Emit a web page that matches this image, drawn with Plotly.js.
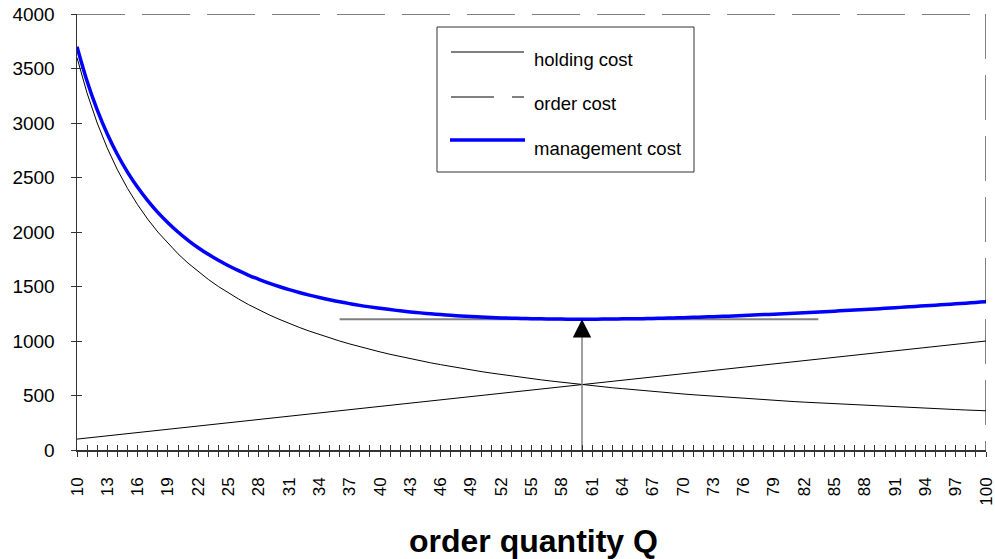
<!DOCTYPE html>
<html>
<head>
<meta charset="utf-8">
<script src="https://cdn.plot.ly/plotly-3.0.1.min.js"></script>
<style>html,body{margin:0;padding:0;background:#fff;}#chart{width:995px;height:559px;}</style>
</head>
<body>
<div id="chart"></div>
<script>
// order quantity Q
const orderQty = [10,11,12,13,14,15,16,17,18,19,20,21,22,23,24,25,26,27,28,29,30,31,32,33,34,35,36,37,38,39,40,41,42,43,44,45,46,47,48,49,50,51,52,53,54,55,56,57,58,59,60,61,62,63,64,65,66,67,68,69,70,71,72,73,74,75,76,77,78,79,80,81,82,83,84,85,86,87,88,89,90,91,92,93,94,95,96,97,98,99,100];
// holding cost (rising line)
const holdingCost = [100,110,120,130,140,150,160,170,180,190,200,210,220,230,240,250,260,270,280,290,300,310,320,330,340,350,360,370,380,390,400,410,420,430,440,450,460,470,480,490,500,510,520,530,540,550,560,570,580,590,600,610,620,630,640,650,660,670,680,690,700,710,720,730,740,750,760,770,780,790,800,810,820,830,840,850,860,870,880,890,900,910,920,930,940,950,960,970,980,990,1000];
// order cost (falling curve)
const orderCost = [3600,3273,3000,2769,2571,2400,2250,2118,2000,1895,1800,1714,1636,1565,1500,1440,1385,1333,1286,1241,1200,1161,1125,1091,1059,1029,1000,973,947,923,900,878,857,837,818,800,783,766,750,735,720,706,692,679,667,655,643,632,621,610,600,590,581,571,563,554,545,537,529,522,514,507,500,493,486,480,474,468,462,456,450,444,439,434,429,424,419,414,409,404,400,396,391,387,383,379,375,371,367,364,360];
// management cost (total)
const managementCost = [3700,3383,3120,2899,2711,2550,2410,2288,2180,2085,2000,1924,1856,1795,1740,1690,1645,1603,1566,1531,1500,1471,1445,1421,1399,1379,1360,1343,1327,1313,1300,1288,1277,1267,1258,1250,1243,1236,1230,1225,1220,1216,1212,1209,1207,1205,1203,1202,1201,1200,1200,1200,1201,1201,1203,1204,1205,1207,1209,1212,1214,1217,1220,1223,1226,1230,1234,1238,1242,1246,1250,1254,1259,1264,1269,1274,1279,1284,1289,1294,1300,1306,1311,1317,1323,1329,1335,1341,1347,1354,1360];
// minimum marker
const minLineQ = [36, 83.4];
const minLineCost = [1200, 1200];
const arrowQ = [60, 60];
const arrowCost = [0, 1200];
// tick labels
const xTickLabels = [10,13,16,19,22,25,28,31,34,37,40,43,46,49,52,55,58,61,64,67,70,73,76,79,82,85,88,91,94,97,100];
const yTickLabels = [0,500,1000,1500,2000,2500,3000,3500,4000];
const legendNames = ['holding cost', 'order cost', 'management cost'];
const xTitle = 'order quantity Q';

const FONT = 'Liberation Sans, Arial, sans-serif';
const xMin = xTickLabels[0], xMax = xTickLabels[xTickLabels.length-1];
const xRange = [xMin - 0.0001, xMax + 0.0001];
const yRange = [yTickLabels[0], yTickLabels[yTickLabels.length-1]];

const traces = [
  {x: orderQty, y: orderCost, mode: 'lines', line: {color: '#000', width: 1}, hoverinfo: 'skip'},
  {x: orderQty, y: holdingCost, mode: 'lines', line: {color: '#000', width: 1}, hoverinfo: 'skip'},
  {x: minLineQ, y: minLineCost, mode: 'lines', line: {color: '#808080', width: 2}, hoverinfo: 'skip'},
  {x: arrowQ, y: arrowCost, mode: 'lines', line: {color: '#808080', width: 1.5}, hoverinfo: 'skip'},
  {x: orderQty, y: managementCost, mode: 'lines', line: {color: '#0000ff', width: 3.5, shape: 'spline'}, hoverinfo: 'skip'},
  {x: [null], y: [null], xaxis: 'x2', yaxis: 'y2', mode: 'lines', hoverinfo: 'skip'}
];

const ML = 77, MR = 9, MT = 14, MB = 109;
const PW = 995 - ML - MR, PH = 559 - MT - MB;
function px(p){ return (p - ML) / PW; }
function py(p){ return (559 - MB - p) / PH; }

const shapes = [
  // top dashed border at 4000
  {type: 'line', xref: 'x', yref: 'y', x0: xMin, x1: xMax, y0: yRange[1], y1: yRange[1], line: {color: '#000', width: 1, dash: '48px,17px'}},
  // right dashed border
  {type: 'line', xref: 'x', yref: 'y', x0: xMax, x1: xMax, y0: yRange[1], y1: yRange[0], line: {color: '#000', width: 1, dash: '45px,16px'}},
  // legend box
  {type: 'rect', xref: 'paper', yref: 'paper', x0: px(437), x1: px(694), y0: py(172), y1: py(27), line: {color: '#333', width: 1}, fillcolor: '#fff', layer: 'above'},
  {type: 'line', xref: 'paper', yref: 'paper', x0: px(451), x1: px(524), y0: py(52), y1: py(52), line: {color: '#000', width: 1}, layer: 'above'},
  {type: 'line', xref: 'paper', yref: 'paper', x0: px(451), x1: px(494), y0: py(97), y1: py(97), line: {color: '#000', width: 1}, layer: 'above'},
  {type: 'line', xref: 'paper', yref: 'paper', x0: px(512), x1: px(524), y0: py(97), y1: py(97), line: {color: '#000', width: 1}, layer: 'above'},
  {type: 'line', xref: 'paper', yref: 'paper', x0: px(450), x1: px(525), y0: py(140), y1: py(140), line: {color: '#0000ff', width: 3.5}, layer: 'above'}
];

const annotations = [
  {x: arrowQ[1], y: arrowCost[1], xref: 'x', yref: 'y', ax: 0, ay: 19, showarrow: true, arrowhead: 2, arrowsize: 2.45, arrowwidth: 1.5, arrowcolor: '#000', text: ''},
  {x: px(532), y: py(59), xref: 'paper', yref: 'paper', xanchor: 'left', yanchor: 'middle', showarrow: false, text: legendNames[0], font: {family: FONT, size: 18.5, color: '#000'}},
  {x: px(532), y: py(103), xref: 'paper', yref: 'paper', xanchor: 'left', yanchor: 'middle', showarrow: false, text: legendNames[1], font: {family: FONT, size: 18.5, color: '#000'}},
  {x: px(532), y: py(148), xref: 'paper', yref: 'paper', xanchor: 'left', yanchor: 'middle', showarrow: false, text: legendNames[2], font: {family: FONT, size: 18.5, color: '#000'}},
  {x: px(533), y: py(541), xref: 'paper', yref: 'paper', xanchor: 'center', yanchor: 'middle', showarrow: false, text: '<b>' + xTitle + '</b>', font: {family: FONT, size: 32, color: '#000'}}
];

const layout = {
  width: 995, height: 559,
  margin: {l: ML, r: MR, t: MT, b: MB, pad: 0},
  paper_bgcolor: '#fff', plot_bgcolor: '#fff',
  showlegend: false,
  font: {family: FONT, color: '#000'},
  xaxis: {
    range: xRange, tickvals: xTickLabels, ticktext: xTickLabels.map(String),
    ticks: 'outside', ticklen: 5, tickcolor: '#333', tickwidth: 1,
    minor: {dtick: 1, tick0: xMin, ticks: 'outside', ticklen: 5, tickcolor: '#333', tickwidth: 1, showgrid: false},
    showline: true, linecolor: '#333', linewidth: 1.5, showgrid: false, zeroline: false,
    tickangle: -90, tickfont: {family: FONT, size: 17, color: '#000'}, ticklabelstandoff: 14,
    ticklabeloverflow: 'allow'
  },
  yaxis: {
    range: yRange, tickvals: yTickLabels, ticks: 'outside', ticklen: 5, tickcolor: '#333', tickwidth: 1,
    showline: true, linecolor: '#333', linewidth: 1.5, showgrid: false, zeroline: false,
    tickfont: {family: FONT, size: 19, color: '#000'}, ticklabelstandoff: 12
  },
  xaxis2: {
    overlaying: 'x', anchor: 'y', range: xRange, dtick: 1, tick0: xMin, ticks: 'inside', ticklen: 5,
    tickcolor: '#333', tickwidth: 1, showticklabels: false, showline: false, showgrid: false, zeroline: false
  },
  yaxis2: {
    overlaying: 'y', anchor: 'x', side: 'left', range: yRange, tickvals: yTickLabels, ticks: 'inside', ticklen: 5,
    tickcolor: '#333', tickwidth: 1, showticklabels: false, showline: false, showgrid: false, zeroline: false
  },
  shapes: shapes,
  annotations: annotations
};

Plotly.newPlot('chart', traces, layout, {staticPlot: true, displayModeBar: false});
</script>
</body>
</html>
